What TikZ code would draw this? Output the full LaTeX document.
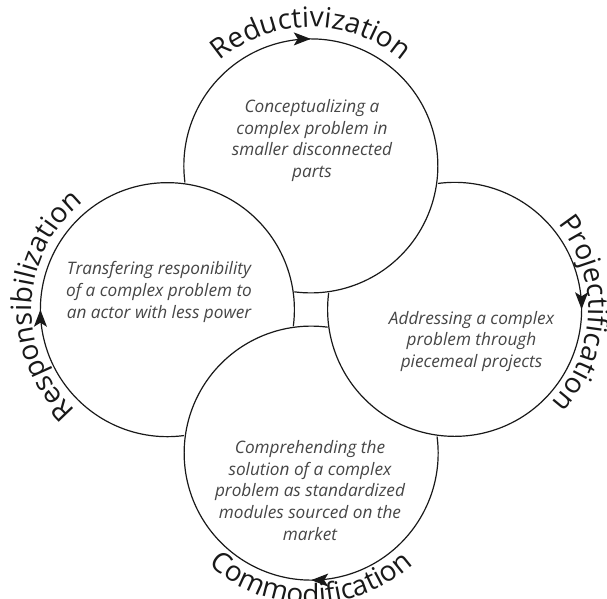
\documentclass[tikz,border=0pt]{standalone}
\usepackage{fontspec}
\setmainfont{Open Sans}
\usetikzlibrary{arrows.meta,decorations.markings,decorations.text}
\definecolor{inktext}{RGB}{70,70,70}
\definecolor{inkline}{RGB}{25,25,25}
\newcommand{\cyclefont}{\fontsize{28}{30}\selectfont\color{inkline}}

\begin{document}
\begin{tikzpicture}[x=1pt,y=1pt,
  ring/.style={circle,minimum size=254pt,inner sep=0pt,outer sep=0pt},
  desc/.style={align=center,font=\fontsize{17.2}{21.7}\selectfont\itshape,
    text=inktext,inner sep=0pt},
  rim/.style={draw=inkline,line width=1.2pt,postaction={decorate},
    decoration={markings,mark=at position 0.342 with
      {\arrow{Stealth[length=17pt,width=13pt,inset=4pt]}}}},
  cycle label/.style={decorate,decoration={text along path,
    text align=center,text={|\cyclefont|#1}}}]
\useasboundingbox[fill=white] (-311,-288.5) rectangle (296,309.5);
\node[ring] (reduct) at (0,142.5) {};
\node[ring] (project) at (142.5,0) {};
\node[ring] (commod) at (0,-142.5) {};
\node[ring] (respons) at (-142.5,0) {};
% each rim stops where the next circle lies over it
\draw[rim] (reduct.187.5) arc[start angle=187.5,end angle=-97.5,radius=127pt];
\draw[rim] (project.97.5) arc[start angle=97.5,end angle=-187.5,radius=127pt];
\draw[rim] (commod.7.5) arc[start angle=7.5,end angle=-277.5,radius=127pt];
\draw[rim] (respons.277.5) arc[start angle=277.5,end angle=-7.5,radius=127pt];
\node[desc] (reducttext) at (1,169)
  {Conceptualizing a\\complex problem in\\smaller disconnected\\parts};
\node[desc] (projecttext) at (160.5,-32)
  {Addressing a complex\\problem through\\piecemeal projects};
\node[desc] (commodtext) at (-1,-181)
  {Comprehending the\\solution of a complex\\problem as standardized\\modules sourced on the\\market};
\node[desc] (responstext) at (-152,17.5)
  {Transfering responibility\\of a complex problem to\\an actor with less power};
\path[shift={(reduct.center)},cycle label=Reductivization]
  (160:140) arc[start angle=160,end angle=20,radius=140pt];
\path[shift={(project.center)},cycle label=Projectification]
  (70:135) arc[start angle=70,end angle=-74,radius=135pt];
\path[shift={(commod.center)},cycle label=Commodification]
  (200:152) arc[start angle=200,end angle=340,radius=152pt];
\path[shift={(respons.center)},cycle label=Responsibilization]
  (250:137) arc[start angle=250,end angle=106,radius=137pt];
\end{tikzpicture}
\end{document}
